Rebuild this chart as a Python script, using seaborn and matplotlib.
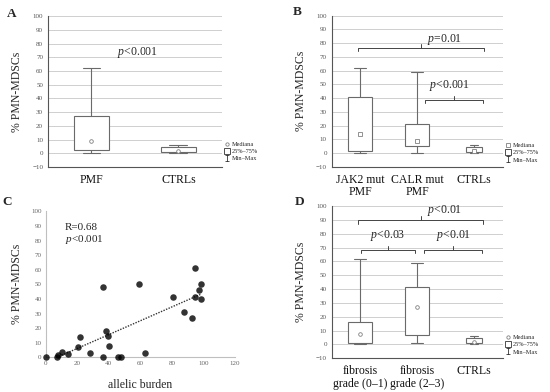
import numpy as np
import pandas as pd
import seaborn as sns
from matplotlib import pyplot as plt
from matplotlib.lines import Line2D
from matplotlib.path import Path

# Box summaries per group: min, 25%, median, 75%, max
pmf = [0, 2.5, 9, 27.5, 62]
ctrls = [0, 1, 1.5, 4.5, 6]
jak2_pmf = [0, 1.5, 14, 41, 62]
calr_pmf = [0.5, 5, 9, 21.5, 59]
fib_low = [0, 1, 7.5, 16.5, 62]
fib_high = [1, 7, 27, 41.5, 59]

labels_a = ["PMF", "CTRLs"]
labels_b = ["JAK2 mut\nPMF", "CALR mut\nPMF", "CTRLs"]
labels_d = ["fibrosis\ngrade (0–1)", "fibrosis\ngrade (2–3)", "CTRLs"]

# Panel C scatter
allelic_burden = [0.5, 7, 8, 10.5, 14, 20.5, 22, 28, 36.5, 36.5, 38, 39.5, 40,
                  46, 47.5, 59, 63, 81, 88, 93, 94.5, 94.5, 97.5, 98.5, 98.5]
pmn_mdsc = [0.5, 0, 1.5, 3.5, 2.5, 7, 14, 3, 48, 0.5, 18, 14.5, 8,
            0.5, 0, 50, 3, 41.5, 31, 27, 61.5, 41, 46, 50, 40]

sns.set_style("white")
plt.rcParams["font.family"] = ["Liberation Serif", "DejaVu Serif"]
plt.rcParams["mathtext.fontset"] = "custom"
plt.rcParams["mathtext.it"] = "Liberation Serif:italic"
plt.rcParams["mathtext.rm"] = "Liberation Serif"

BOX = "#6a6a6a"
GRID = "#cfcfcf"

fig = plt.figure(figsize=(5.5, 3.92), dpi=100)
ax_a = fig.add_axes([0.0873, 0.574, 0.316, 0.385])
ax_b = fig.add_axes([0.603, 0.574, 0.311, 0.386])
ax_c = fig.add_axes([0.083, 0.0885, 0.344, 0.3724])
ax_d = fig.add_axes([0.603, 0.086, 0.311, 0.3885])

i_path = Path([(-0.6, 1), (0.6, 1), (0, 1), (0, -1), (-0.6, -1), (0.6, -1)],
              [Path.MOVETO, Path.LINETO, Path.MOVETO, Path.LINETO, Path.MOVETO, Path.LINETO])


def box_panel(ax, labels, groups, widths, marker, leg_y):
    df = pd.DataFrame({"group": np.repeat(labels, 5), "value": np.concatenate(groups)})
    df["w"] = np.repeat(widths, 5)
    for w, sub in df.groupby("w"):
        sns.boxplot(data=sub, x="group", y="value", order=labels, width=w,
                    whis=(0, 100), showfliers=False, color="white", linecolor=BOX,
                    linewidth=0.8, medianprops={"visible": False}, ax=ax)
    sns.pointplot(data=df, x="group", y="value", order=labels, estimator="median",
                  errorbar=None, linestyle="none", marker=marker, markersize=2.6,
                  markerfacecolor="white", markeredgecolor="#808080",
                  markeredgewidth=0.6, color="#808080", ax=ax)
    ax.set_ylim(-10, 100)
    ax.set_xlim(-0.5, len(labels) - 0.5)
    ax.set_yticks(range(-10, 101, 10))
    ax.set_axisbelow(True)
    ax.grid(False)
    ax.yaxis.grid(True, color=GRID, linewidth=0.7, linestyle="-")
    for s in ["top", "right"]:
        ax.spines[s].set_visible(False)
    for s in ["left", "bottom"]:
        ax.spines[s].set_color("#555555")
        ax.spines[s].set_linewidth(0.8)
    ax.tick_params(axis="y", labelsize=5, colors="#555555", length=2, width=0.5, pad=1.5)
    ax.tick_params(axis="x", labelsize=8.5, labelcolor="#111111", length=2, width=0.5,
                   color="#555555", pad=3)
    for t in ax.get_xticklabels():
        t.set_linespacing(1.05)
    ax.set_xlabel("")
    ax.set_ylabel("% PMN-MDSCs", fontsize=8.5)
    ax.yaxis.set_label_coords(-0.145, 0.5)
    handles = [
        Line2D([], [], marker=marker, linestyle="none", markersize=2.4, mfc="white",
               mec="#808080", mew=0.6, label="Mediana"),
        Line2D([], [], marker="s", linestyle="none", markersize=5, mfc="white",
               mec="#333333", mew=0.6, label="25%–75%"),
        Line2D([], [], marker=i_path, linestyle="none", markersize=5, color="#333333",
               mew=0.6, label="Min–Max"),
    ]
    ax.legend(handles=handles, loc="upper left", bbox_to_anchor=(1.02, leg_y),
              frameon=False, fontsize=4.5, handlelength=0.7, handletextpad=0.3,
              labelspacing=0.3, borderaxespad=0, borderpad=0)


def bracket(ax, x0, x1, y, drop, tip, tick_x=None):
    xm = (x0 + x1) / 2 if tick_x is None else tick_x
    ax.plot([x0, x0, x1, x1], [y - drop, y, y, y - drop], color="#444444", lw=0.7,
            solid_joinstyle="round")
    ax.plot([xm, xm], [y, y + tip], color="#444444", lw=0.7)


# Panel A
box_panel(ax_a, labels_a, [pmf, ctrls], [0.41, 0.41], "o", 0.17)
ax_a.text(0.53, 73.6, "$p$<0.001", ha="center", va="center", fontsize=8.5)

# Panel B
box_panel(ax_b, labels_b, [jak2_pmf, calr_pmf, ctrls], [0.42, 0.42, 0.27], "s", 0.16)
bracket(ax_b, -0.04, 2.17, 76.5, 2.5, 3.2)
ax_b.text(1.17, 82.8, "$p$=0.01", ha="left", va="center", fontsize=8.5)
bracket(ax_b, 1.14, 2.15, 39, 2.5, 2.6)
ax_b.text(1.56, 49.4, "$p$<0.001", ha="center", va="center", fontsize=8.5)

# Panel D
box_panel(ax_d, labels_d, [fib_low, fib_high, ctrls], [0.43, 0.43, 0.28], "o", 0.155)
bracket(ax_d, -0.04, 2.16, 89.7, 2.5, 3.1)
ax_d.text(1.17, 96.4, "$p$<0.01", ha="left", va="center", fontsize=8.5)
bracket(ax_d, 0.02, 0.96, 68, 2.3, 3.1)
ax_d.text(0.49, 78.8, "$p$<0.03", ha="center", va="center", fontsize=8.5)
bracket(ax_d, 1.12, 2.13, 68, 2.3, 3.1, tick_x=1.63)
ax_d.text(1.63, 78.8, "$p$<0.01", ha="center", va="center", fontsize=8.5)

# Panel C
sns.regplot(x=allelic_burden, y=pmn_mdsc, ci=None, ax=ax_c,
            scatter_kws=dict(s=22, color="black", linewidths=0, zorder=3, clip_on=False),
            line_kws=dict(color="#333333", linestyle=(0, (1, 1)), linewidth=1.0, zorder=2))
ax_c.set_xlim(0, 120)
ax_c.set_ylim(0, 100)
ax_c.set_xticks(range(0, 121, 20))
ax_c.set_yticks(range(0, 101, 10))
for s in ["top", "right"]:
    ax_c.spines[s].set_visible(False)
for s in ["left", "bottom"]:
    ax_c.spines[s].set_color("#bfbfbf")
    ax_c.spines[s].set_linewidth(0.8)
ax_c.tick_params(labelsize=5, colors="#666666", length=0, pad=3)
ax_c.set_xlabel("allelic burden", fontsize=8.5)
ax_c.xaxis.set_label_coords(0.5, -0.15)
ax_c.set_ylabel("% PMN-MDSCs", fontsize=8.5)
ax_c.yaxis.set_label_coords(-0.118, 0.5)
ax_c.text(12.2, 89, "R=0.68", ha="left", va="center", fontsize=8)
ax_c.text(12.2, 80.6, "$p$<0.001", ha="left", va="center", fontsize=8)

# Panel letters
for x, y, s in [(7, 14, "A"), (293, 12, "B"), (2, 202, "C"), (295, 202, "D")]:
    fig.text(x / 550, 1 - y / 392, s, ha="left", va="center", fontsize=9.5, fontweight="bold")

fig.savefig("out.png", dpi=100)
